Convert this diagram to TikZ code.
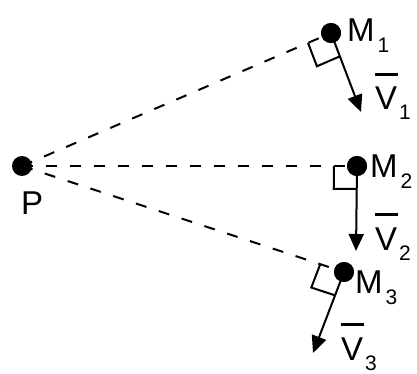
\documentclass[tikz,border=0pt]{standalone}
\usepackage{fontspec}
\setmainfont{Liberation Sans}
\usetikzlibrary{arrows.meta,calc}
\newcommand{\vbar}[1]{\makebox[0pt][l]{\hspace{-0.5pt}\raisebox{34pt}{\rule{23pt}{3pt}}}V\hspace{2pt}\raisebox{-10pt}{\fontsize{21}{21}\selectfont #1}}
\newcommand{\msub}[1]{M\hspace{3pt}\raisebox{-11pt}{\fontsize{21}{21}\selectfont #1}}
\begin{document}
\begin{tikzpicture}[x=1pt,y=-1pt,
  dot/.style={circle,fill=black,inner sep=0pt,minimum size=20pt},
  dline/.style={line width=2pt,dash pattern=on 11pt off 13pt},
  vel/.style={line width=2pt,-{Triangle[length=17pt,width=15pt]}},
  rsq/.style={line width=2pt},
  lbl/.style={inner sep=0pt,anchor=base west,font=\fontsize{33}{33}\selectfont}]
\useasboundingbox (0,0) rectangle (417,374);
\node[dot] (P) at (22,166) {};
\node[dot] (M1) at (331,33) {};
\node[dot] (M2) at (357,166) {};
\node[dot] (M3) at (344,272) {};
\coordinate (V1) at (361,112);
\coordinate (V2) at (356,251);
\coordinate (V3) at (313,353);
\draw[dline] (P.center) -- (M1.center);
\draw[dline] (P.center) -- (M2.center);
\draw[dline] (P.center) -- (M3.center);
\draw[vel] (M1.center) -- (V1);
\draw[vel] (M2.center) -- (V2);
\draw[vel] (M3.center) -- (V3);
\foreach \m/\v/\s in {M1/V1/25,M2/V2/23,M3/V3/25}{
  \coordinate (a) at ($(\m.center)!\s pt!(P.center)$);
  \coordinate (b) at ($(\m.center)!\s pt!(\v)$);
  \draw[rsq] (a) -- ($(a)+(b)-(\m.center)$) -- (b);
}
\node[dot] at (M1) {};
\node[dot] at (M2) {};
\node[dot] at (M3) {};
\node[lbl] (LP) at (21,214) {P};
\node[lbl] (LM1) at (347,42) {\msub{1}};
\node[lbl] (LM2) at (370,177) {\msub{2}};
\node[lbl] (LM3) at (355,293) {\msub{3}};
\node[lbl] (LV1) at (375,110) {\vbar{1}};
\node[lbl] (LV2) at (375,250) {\vbar{2}};
\node[lbl] (LV3) at (341,360) {\vbar{3}};
\end{tikzpicture}
\end{document}
